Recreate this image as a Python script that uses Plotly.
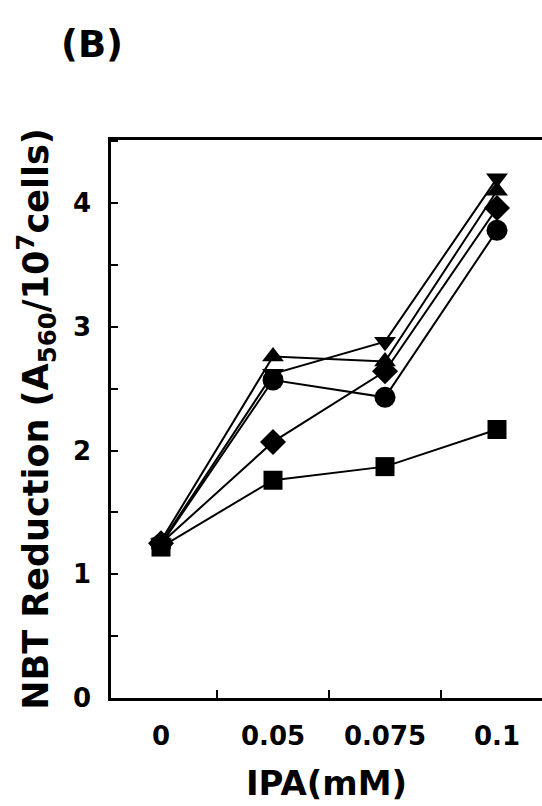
import plotly.graph_objects as go

categories = ["0", "0.05", "0.075", "0.1"]
square_vals = [1.22, 1.76, 1.87, 2.17]
circle_vals = [1.24, 2.57, 2.43, 3.78]
diamond_vals = [1.25, 2.07, 2.64, 3.96]
tri_up_vals = [1.27, 2.76, 2.72, 4.10]
tri_down_vals = [1.25, 2.62, 2.88, 4.20]

FONT = "DejaVu Sans"

series = [
    ("square", square_vals, "square", 19),
    ("circle", circle_vals, "circle", 21),
    ("diamond", diamond_vals, "diamond", 20),
    ("triangle-up", tri_up_vals, "triangle-up", 19),
    ("triangle-down", tri_down_vals, "triangle-down", 19),
]

fig = go.Figure()
for name, vals, sym, sz in series:
    fig.add_trace(go.Scatter(
        x=categories, y=vals, mode="lines+markers", name=name,
        line=dict(color="black", width=2),
        marker=dict(symbol=sym, size=sz, color="black", line=dict(width=0)),
        showlegend=False,
    ))

W, H = 542, 806
L, R, T, B = 111, 0, 140, 108
pw = W - L - R
ph = H - T - B
cat_px = 112
x0 = -(161 - L) / cat_px
x1 = x0 + pw / cat_px

fig.update_layout(
    width=W, height=H,
    margin=dict(l=L, r=R, t=T, b=B),
    paper_bgcolor="white", plot_bgcolor="white",
    font=dict(family=FONT, color="black", size=25),
    title=dict(
        text="(B)", xref="container", yref="container",
        x=92 / W, y=1 - 44 / H, xanchor="center", yanchor="middle",
        font=dict(family=FONT, size=37, color="black", weight="bold"),
    ),
    xaxis=dict(
        type="category", range=[x0, x1],
        title=dict(text="IPA(mM)", standoff=22,
                   font=dict(family=FONT, size=34, color="black", weight="bold")),
        showline=True, linecolor="black", linewidth=2.5, mirror=True,
        ticks="inside", tickson="boundaries", ticklen=8, tickwidth=2, tickcolor="black",
        tickfont=dict(family=FONT, size=26, color="black", weight="bold"),
        ticklabelstandoff=13,
        showgrid=False, zeroline=False,
    ),
    yaxis=dict(
        range=[0, 4.51], dtick=1, tick0=0,
        title=dict(text="NBT Reduction (A<sub>560</sub>/10<sup>7</sup>cells)", standoff=14,
                   font=dict(family=FONT, size=35, color="black", weight="bold")),
        showline=True, linecolor="black", linewidth=2.5, mirror=False,
        ticks="inside", ticklen=7, tickwidth=2, tickcolor="black",
        minor=dict(dtick=0.5, ticks="inside", ticklen=7, tickwidth=2, tickcolor="black", showgrid=False),
        tickfont=dict(family=FONT, size=26, color="black", weight="bold"),
        ticklabelstandoff=12,
        showgrid=False, zeroline=False,
    ),
)

fig.write_html("out.html")
